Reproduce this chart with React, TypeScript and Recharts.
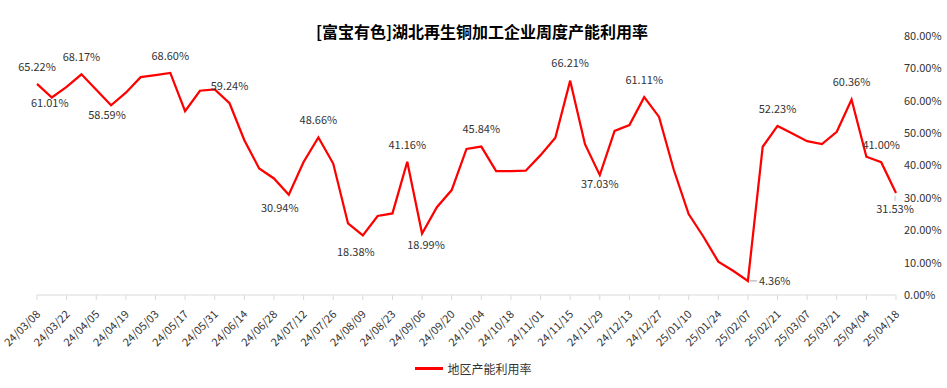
import React from 'react';
import { LineChart, Line, XAxis, YAxis, Legend } from 'recharts';

const dates = [
  '24/03/08', '24/03/15', '24/03/22', '24/03/29', '24/04/05', '24/04/12', '24/04/19', '24/04/26',
  '24/05/03', '24/05/10', '24/05/17', '24/05/24', '24/05/31', '24/06/07', '24/06/14', '24/06/21',
  '24/06/28', '24/07/05', '24/07/12', '24/07/19', '24/07/26', '24/08/02', '24/08/09', '24/08/16',
  '24/08/23', '24/08/30', '24/09/06', '24/09/13', '24/09/20', '24/09/27', '24/10/04', '24/10/11',
  '24/10/18', '24/10/25', '24/11/01', '24/11/08', '24/11/15', '24/11/22', '24/11/29', '24/12/06',
  '24/12/13', '24/12/20', '24/12/27', '25/01/03', '25/01/10', '25/01/17', '25/01/24', '25/01/31',
  '25/02/07', '25/02/14', '25/02/21', '25/02/28', '25/03/07', '25/03/14', '25/03/21', '25/03/28',
  '25/04/04', '25/04/11', '25/04/18',
];

const rates = [
  65.22, 61.01, 64.3, 68.17, 63.4, 58.59, 62.5, 67.3,
  67.9, 68.6, 56.8, 63.1, 63.5, 59.24, 47.8, 39.1,
  36.0, 30.94, 41.1, 48.66, 40.6, 22.1, 18.38, 24.4,
  25.2, 41.16, 18.99, 27.1, 32.4, 45.1, 45.84, 38.3,
  38.3, 38.4, 43.2, 48.6, 66.21, 46.6, 37.03, 50.7,
  52.5, 61.11, 55.0, 38.6, 25.0, 18.0, 10.3, 7.5,
  4.36, 45.8, 52.23, 49.9, 47.5, 46.6, 50.4, 60.36,
  42.7, 41.0, 31.53,
];

const yTicks = [0, 10, 20, 30, 40, 50, 60, 70, 80];

// points that carry a value label
const labelled = [0, 1, 3, 5, 9, 13, 17, 19, 22, 25, 26, 30, 36, 38, 41, 48, 50, 55, 57, 58];

const data = dates.map((date, i) => ({ date, rate: rates[i] }));

const font = '"Noto Sans CJK SC", "Noto Sans", sans-serif';
const textColor = '#333333';

// label centre offset from the point, default is above
const labelOffset: Record<number, [number, number]> = {
  1: [-2, 6],
  5: [-4, 10],
  17: [-9, 13],
  22: [-7, 17],
  26: [4, 12],
  38: [0, 9],
  58: [-1, 16],
};

const DataLabel = (props: any) => {
  const { x, y, value } = props;
  const index = props.index ?? rates.indexOf(value);
  if (!labelled.includes(index)) return null;
  const text = `${Number(value).toFixed(2)}%`;
  if (index === 48) {
    return (
      <g>
        <line x1={x + 2} y1={y} x2={x + 9} y2={y} stroke="#a6a6a6" strokeWidth={1} />
        <text x={x + 11} y={y} dy="0.35em" textAnchor="start" fontSize={11} fontFamily={font} fill={textColor}>
          {text}
        </text>
      </g>
    );
  }
  const [dx, dy] = labelOffset[index] ?? [0, -17];
  return (
    <g>
      {index === 58 && <line x1={x - 1} y1={y + 3} x2={x - 1} y2={y + 8} stroke="#c0c0c0" strokeWidth={1} />}
      <text x={x + dx} y={y + dy} dy="0.35em" textAnchor="middle" fontSize={11} fontFamily={font} fill={textColor}>
        {text}
      </text>
    </g>
  );
};

const DateTick = (props: any) => {
  const { x, y, payload } = props;
  return (
    <g transform={`translate(${x + 4},${y + 13})`}>
      <text x={0} y={0} textAnchor="end" transform="rotate(-45)" fontSize={11} fontFamily={font} fill={textColor}>
        {payload.value}
      </text>
    </g>
  );
};

const LegendContent = () => (
  <div
    style={{
      display: 'flex',
      justifyContent: 'center',
      alignItems: 'center',
      fontSize: 12,
      fontFamily: font,
      color: textColor,
      height: 24,
    }}
  >
    <span style={{ display: 'inline-block', width: 28, height: 3, background: '#ff0000', marginRight: 4 }} />
    地区产能利用率
  </div>
);

export default function App() {
  return (
    <div style={{ position: 'absolute', left: 0, top: 0, width: 947, height: 388, background: '#fff' }}>
      <div
        style={{
          position: 'absolute',
          top: 21,
          left: 482,
          transform: 'translateX(-50%)',
          whiteSpace: 'nowrap',
          fontFamily: font,
          fontWeight: 'bold',
          fontSize: 16,
          lineHeight: '20px',
          color: '#000',
        }}
      >
        [富宝有色]湖北再生铜加工企业周度产能利用率
      </div>
      <LineChart width={947} height={388} data={data} margin={{ top: 36, right: 6, bottom: 8, left: 37 }}>
        <XAxis
          dataKey="date"
          interval={1}
          height={61}
          axisLine={{ stroke: '#d9d9d9' }}
          tickLine={{ stroke: '#d9d9d9' }}
          tickSize={5}
          tick={<DateTick />}
        />
        <YAxis
          orientation="right"
          width={45}
          domain={[0, 80]}
          ticks={yTicks}
          axisLine={false}
          tickLine={false}
          tick={{ fontSize: 11, fontFamily: font, fill: textColor, textAnchor: 'start' }}
          tickFormatter={(v: number) => `${v.toFixed(2)}%`}
        />
        <Legend verticalAlign="bottom" height={24} wrapperStyle={{ left: 0, width: 947 }} content={<LegendContent />} />
        <Line
          type="linear"
          dataKey="rate"
          stroke="#ff0000"
          strokeWidth={2.25}
          dot={false}
          isAnimationActive={false}
          label={(p: any) => <DataLabel {...p} />}
        />
      </LineChart>
    </div>
  );
}
